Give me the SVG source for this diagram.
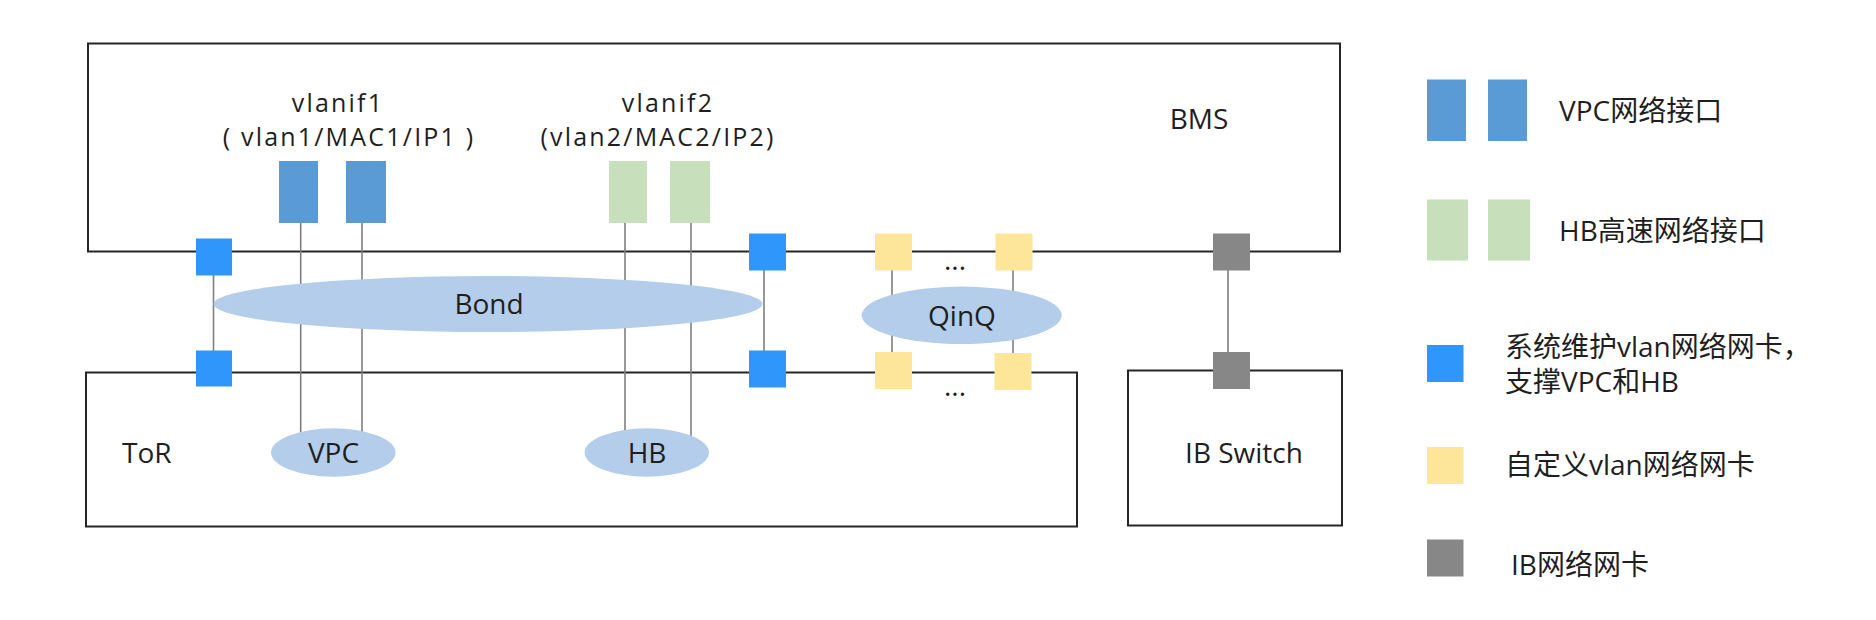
<svg xmlns="http://www.w3.org/2000/svg" width="1876" height="620" viewBox="0 0 1876 620">
<style>
  text { font-family: "Open Sans", "Noto Sans CJK SC", sans-serif; font-size: 28px; fill: #1f1f1f; }
  .c { text-anchor: middle; }
  .lbl { font-size: 25px; letter-spacing: 2.2px; }
  .box { fill: none; stroke: #262626; stroke-width: 2; }
  .link { stroke: #7f7f7f; stroke-width: 1.6; fill: none; }
  .vpc { fill: #5b9bd5; }
  .hb { fill: #c8dfbb; }
  .sys { fill: #2f97fb; }
  .cus { fill: #fde59a; }
  .ib { fill: #878787; }
  .oval { fill: #b4cdea; }
</style>
<rect width="1876" height="620" fill="#ffffff"/>

<g id="bms">
  <rect class="box" x="88" y="43.5" width="1252" height="208"/>
  <text class="c" x="1199" y="129">BMS</text>
</g>
<g id="tor">
  <rect class="box" x="86" y="372.5" width="991" height="154"/>
  <text x="122" y="463">ToR</text>
</g>
<g id="ibswitch">
  <rect class="box" x="1128" y="370.5" width="214" height="155"/>
  <text class="c" x="1244" y="463">IB Switch</text>
</g>

<g id="connectors">
  <line class="link" x1="213.5" y1="275" x2="213.5" y2="351"/>
  <line class="link" x1="764" y1="270" x2="764" y2="351"/>
  <line class="link" x1="892" y1="270" x2="892" y2="353"/>
  <line class="link" x1="1013" y1="270" x2="1013" y2="354"/>
  <line class="link" x1="1228" y1="270" x2="1228" y2="352"/>
  <line class="link" x1="300.7" y1="223" x2="300.7" y2="445"/>
  <line class="link" x1="362" y1="223" x2="362" y2="445"/>
  <line class="link" x1="625" y1="223" x2="625" y2="445"/>
  <line class="link" x1="691" y1="223" x2="691" y2="445"/>
</g>

<g id="vlanif1">
  <text class="c lbl" x="338" y="111.5">vlanif1</text>
  <text class="c lbl" x="349" y="146">( vlan1/MAC1/IP1 )</text>
  <rect class="vpc" x="279" y="161" width="39" height="62"/>
  <rect class="vpc" x="346" y="161" width="40" height="62"/>
</g>
<g id="vlanif2">
  <text class="c lbl" x="668" y="111.5">vlanif2</text>
  <text class="c lbl" x="658" y="146">(vlan2/MAC2/IP2)</text>
  <rect class="hb" x="609" y="161" width="38" height="62"/>
  <rect class="hb" x="670" y="161" width="40" height="62"/>
</g>

<g id="bond">
  <ellipse class="oval" cx="488" cy="304" rx="274.5" ry="28"/>
  <text class="c" x="489" y="314">Bond</text>
</g>
<g id="qinq">
  <ellipse class="oval" cx="961.7" cy="315.3" rx="100" ry="28.7"/>
  <text class="c" x="962" y="326">QinQ</text>
</g>
<g id="vpc">
  <ellipse class="oval" cx="333.3" cy="452.5" rx="62.3" ry="24.2"/>
  <text class="c" x="333.5" y="463">VPC</text>
</g>
<g id="hb">
  <ellipse class="oval" cx="646.8" cy="452.5" rx="62.2" ry="24.2"/>
  <text class="c" x="647" y="463">HB</text>
</g>

<g id="sys-left-bms"><rect class="sys" x="196" y="238.5" width="36" height="37"/></g>
<g id="sys-left-tor"><rect class="sys" x="196" y="350.5" width="36" height="36"/></g>
<g id="sys-right-bms"><rect class="sys" x="749" y="233.5" width="37" height="37"/></g>
<g id="sys-right-tor"><rect class="sys" x="749" y="350.5" width="37" height="37"/></g>
<g id="cus1-bms"><rect class="cus" x="875" y="233.5" width="37" height="37"/></g>
<g id="cus2-bms"><rect class="cus" x="995.5" y="233.5" width="37" height="37"/></g>
<g id="cus1-tor"><rect class="cus" x="875" y="352" width="37" height="37"/></g>
<g id="cus2-tor"><rect class="cus" x="994.5" y="353" width="37" height="37"/></g>
<g id="dots-bms"><text class="c" x="955" y="270">...</text></g>
<g id="dots-tor"><text class="c" x="955" y="396">...</text></g>
<g id="ib-bms"><rect class="ib" x="1213" y="233.5" width="37" height="37"/></g>
<g id="ib-switch-port"><rect class="ib" x="1213" y="352" width="37" height="37"/></g>

<g id="legend">
  <g id="legend-vpc">
    <rect class="vpc" x="1427" y="79.5" width="39" height="61.5"/>
    <rect class="vpc" x="1488" y="79.5" width="39" height="61.5"/>
    <text x="1559" y="121">VPC网络接口</text>
  </g>
  <g id="legend-hb">
    <rect class="hb" x="1427" y="199.5" width="41" height="61"/>
    <rect class="hb" x="1488" y="199.5" width="42" height="61"/>
    <text x="1559" y="241">HB高速网络接口</text>
  </g>
  <g id="legend-sys">
    <rect class="sys" x="1427" y="345" width="36.5" height="37"/>
    <text x="1505" y="357">系统维护vlan网络网卡，</text>
    <text x="1505" y="392">支撑VPC和HB</text>
  </g>
  <g id="legend-cus">
    <rect class="cus" x="1427" y="447" width="36.5" height="37"/>
    <text x="1505" y="475">自定义vlan网络网卡</text>
  </g>
  <g id="legend-ib">
    <rect class="ib" x="1427" y="539.5" width="36.5" height="37"/>
    <text x="1511" y="575">IB网络网卡</text>
  </g>
</g>
</svg>
